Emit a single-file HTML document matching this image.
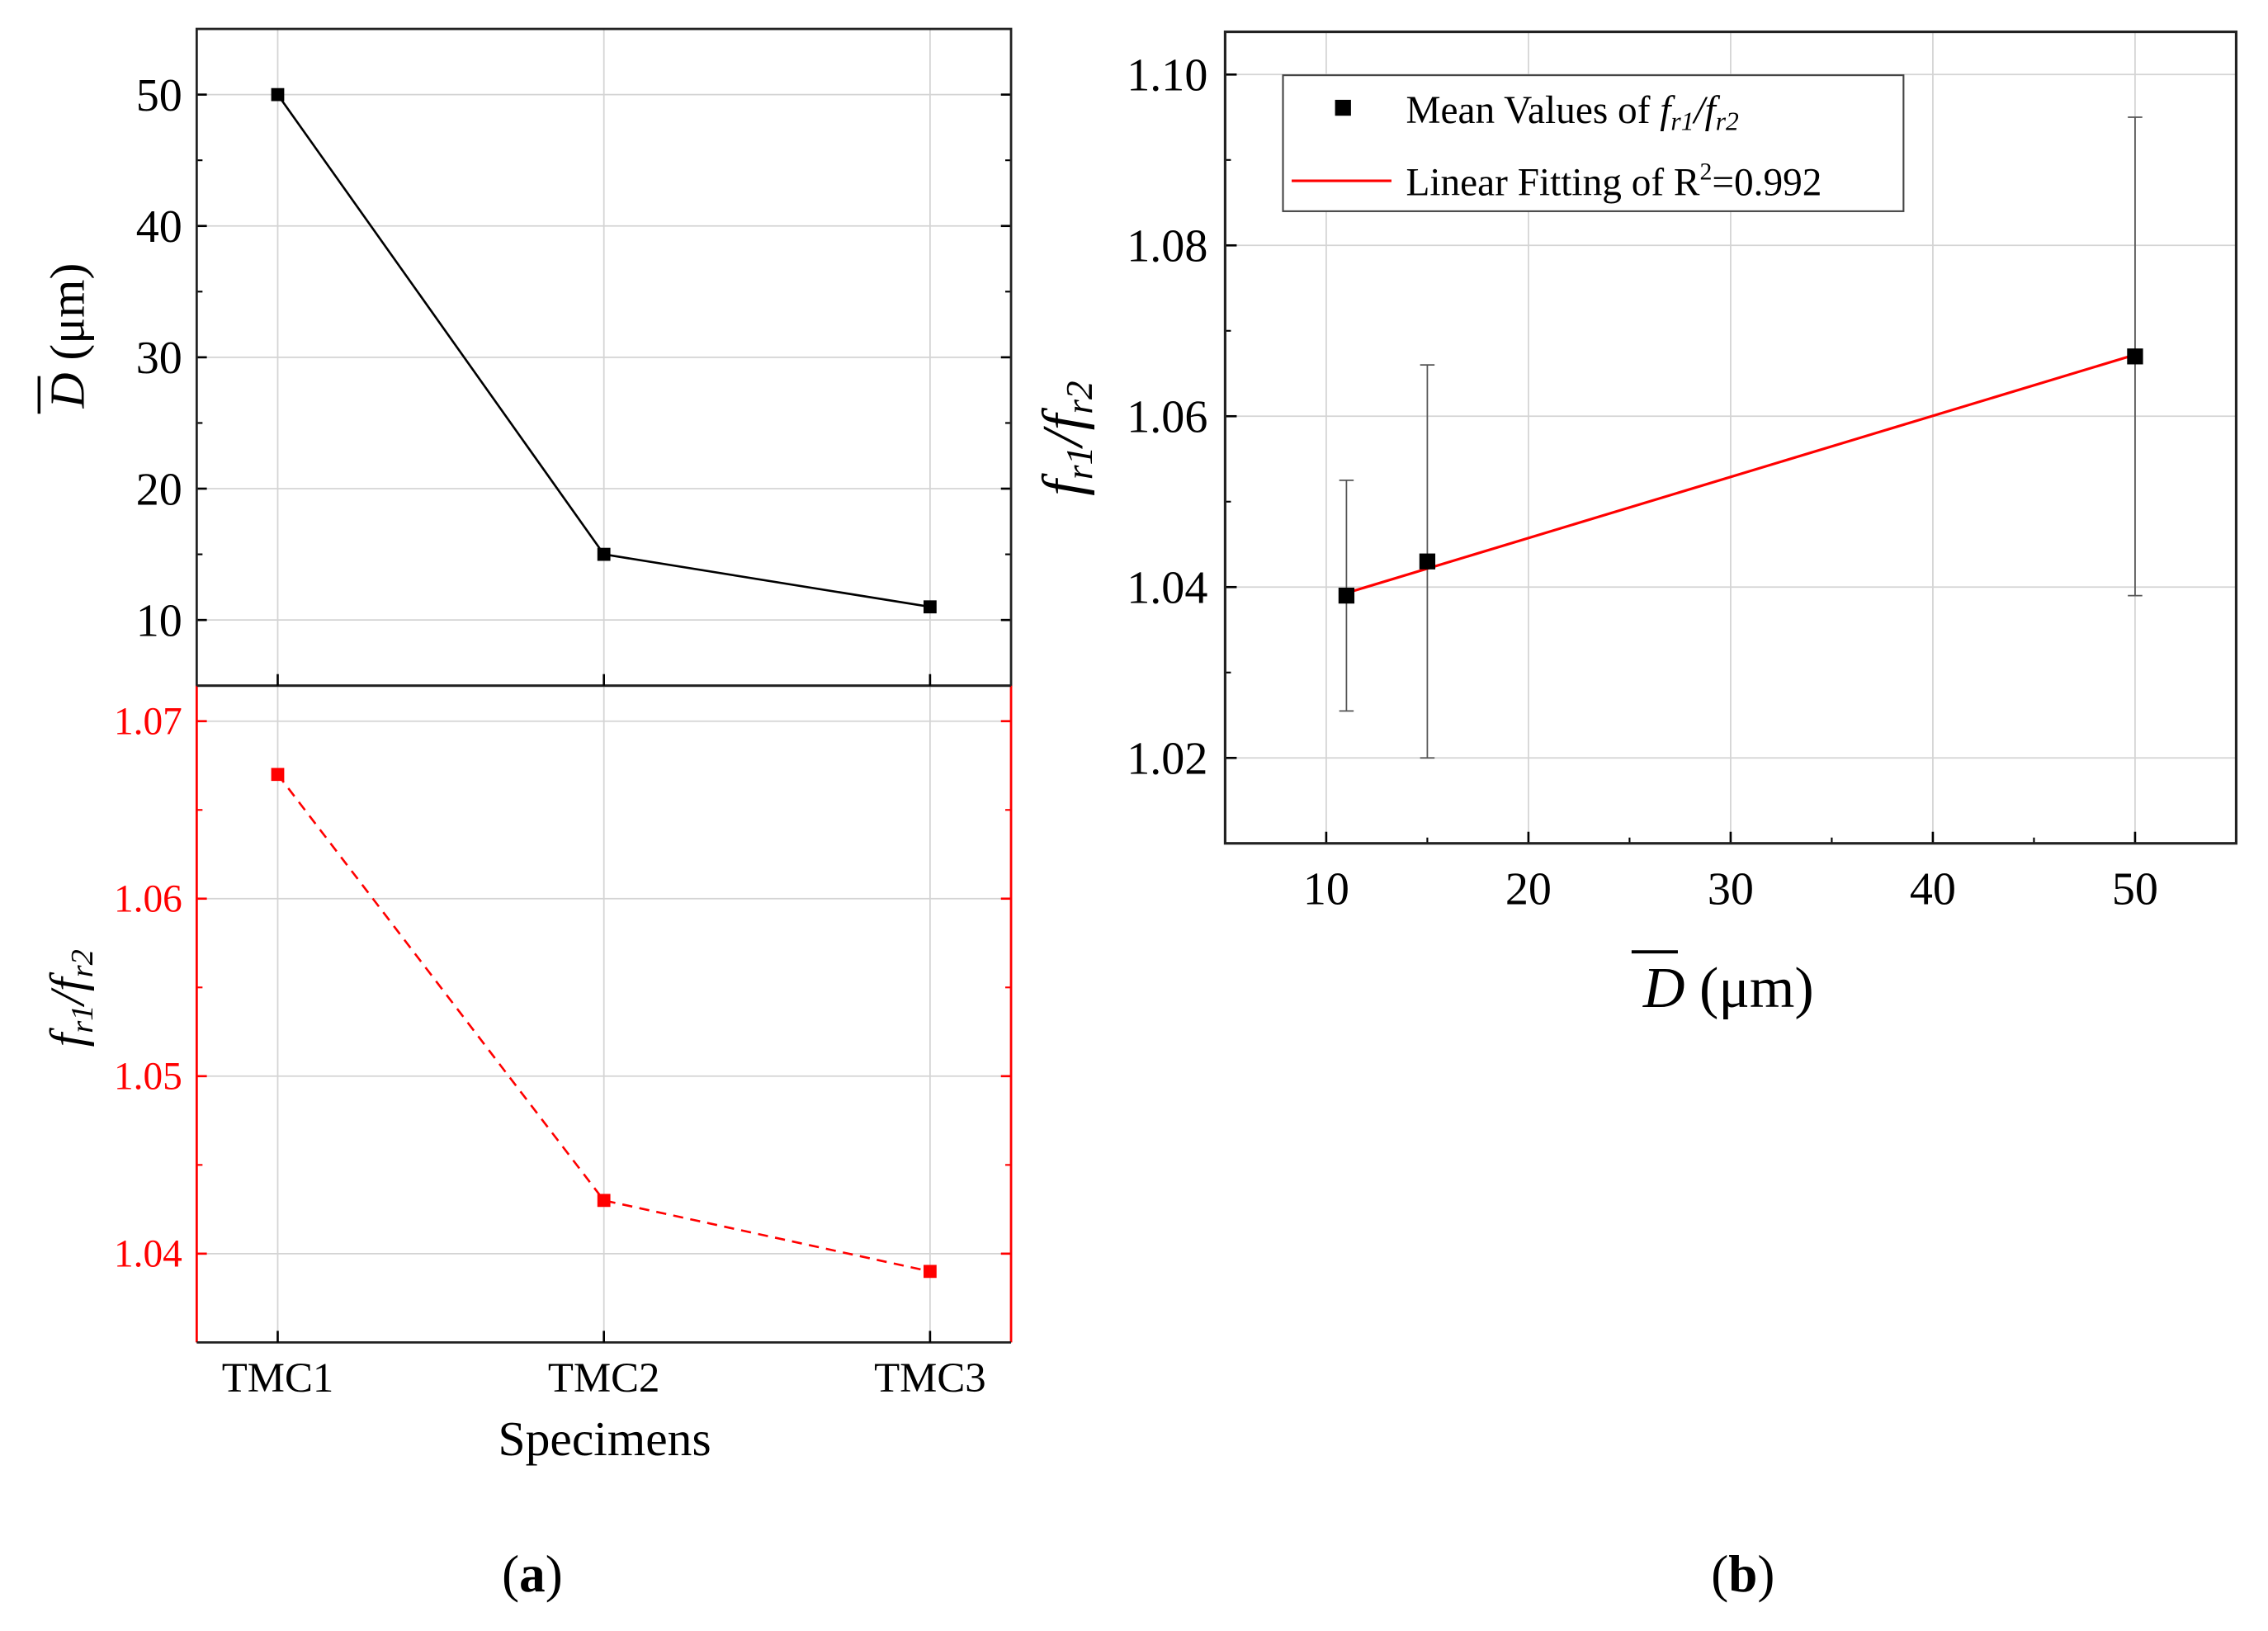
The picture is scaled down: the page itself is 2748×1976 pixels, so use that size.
<!DOCTYPE html>
<html><head><meta charset="utf-8"><style>
html,body{margin:0;padding:0;background:#fff}
svg{display:block}
text{font-family:"Liberation Serif",serif}
</style></head><body>
<svg id="chart" xmlns="http://www.w3.org/2000/svg" width="2748" height="1976" viewBox="0 0 1568 1127.5">
<g id="root"></g>
</svg>
<script>
// Panel (a) data
const specimens = ["TMC1","TMC2","TMC3"];
const grainSize = [50, 15, 11];
const freqRatio = [1.067, 1.043, 1.039];
const topTicks = [10,20,30,40,50];
const botTicks = [1.04,1.05,1.06,1.07];
// Panel (b) data
const meanD = [11, 15, 50];
const meanRatio = [1.039, 1.043, 1.067];
const errLow = [1.0255, 1.020, 1.039];
const errHigh = [1.0525, 1.066, 1.095];
const fitX = [11, 50];
const fitY = [1.0393, 1.0672];
const bXTicks = [10,20,30,40,50];
const bYTicks = [1.02,1.04,1.06,1.08,1.10];

const NS="http://www.w3.org/2000/svg";
const root=document.getElementById('root');
function mk(tag,attrs,parent){const e=document.createElementNS(NS,tag);for(const k in attrs)e.setAttribute(k,attrs[k]);(parent||root).appendChild(e);return e;}
function lin(d0,d1,r0,r1){return v=>r0+(v-d0)*(r1-r0)/(d1-d0);}

// ---------- Panel (a) ----------
const aL=136,aR=699,aT=20,aM=474,aB=928;
const ax=i=>lin(0,2,192,643)(i);
const ayT=lin(5,55,aM,aT);
const ayB=lin(1.035,1.072,aB,aM);
const gA=mk('g',{});


specimens.forEach((s,i)=>{
  const l=mk('line',{x1:ax(i),x2:ax(i),y1:aT,y2:aB,stroke:'#d4d4d4','stroke-width':1},gA);
  
  
});
topTicks.forEach(v=>{
  const l=mk('line',{x1:aL,x2:aR,y1:ayT(v),y2:ayT(v),stroke:'#d4d4d4','stroke-width':1},gA);
  
  
  const t=mk('text',{x:aL-10,y:ayT(v)+11,'text-anchor':'end','font-size':32,fill:'#000'},gA);
  t.textContent=v;
  
  
  mk('line',{x1:aL,x2:aL+7,y1:ayT(v),y2:ayT(v),stroke:'#000','stroke-width':1.5},gA);
  mk('line',{x1:aR,x2:aR-7,y1:ayT(v),y2:ayT(v),stroke:'#000','stroke-width':1.5},gA);
});
[15,25,35,45].forEach(v=>{
  mk('line',{x1:aL,x2:aL+4,y1:ayT(v),y2:ayT(v),stroke:'#000','stroke-width':1.2},gA);
  mk('line',{x1:aR,x2:aR-4,y1:ayT(v),y2:ayT(v),stroke:'#000','stroke-width':1.2},gA);
});
botTicks.forEach(v=>{
  const l=mk('line',{x1:aL,x2:aR,y1:ayB(v),y2:ayB(v),stroke:'#d4d4d4','stroke-width':1},gA);
  
  
  const t=mk('text',{x:aL-10,y:ayB(v)+9,'text-anchor':'end','font-size':27,fill:'#ff0000'},gA);
  t.textContent=v.toFixed(2);
  
  
  mk('line',{x1:aL,x2:aL+7,y1:ayB(v),y2:ayB(v),stroke:'#ff0000','stroke-width':1.5},gA);
  mk('line',{x1:aR,x2:aR-7,y1:ayB(v),y2:ayB(v),stroke:'#ff0000','stroke-width':1.5},gA);
});
[1.045,1.055,1.065].forEach(v=>{
  mk('line',{x1:aL,x2:aL+4,y1:ayB(v),y2:ayB(v),stroke:'#ff0000','stroke-width':1.2},gA);
  mk('line',{x1:aR,x2:aR-4,y1:ayB(v),y2:ayB(v),stroke:'#ff0000','stroke-width':1.2},gA);
});
mk('rect',{x:aL,y:aT,width:aR-aL,height:aM-aT,fill:'none',stroke:'#222','stroke-width':1.6},gA);
mk('line',{x1:aL,x2:aL,y1:aM,y2:aB,stroke:'#ff0000','stroke-width':1.6},gA);
mk('line',{x1:aR,x2:aR,y1:aM,y2:aB,stroke:'#ff0000','stroke-width':1.6},gA);
mk('line',{x1:aL,x2:aR,y1:aB,y2:aB,stroke:'#222','stroke-width':1.6},gA);
mk('line',{x1:aL,x2:aR,y1:aM,y2:aM,stroke:'#222','stroke-width':1.6},gA);
specimens.forEach((s,i)=>{
  mk('line',{x1:ax(i),x2:ax(i),y1:aM,y2:aM-8,stroke:'#000','stroke-width':1.5},gA);
  mk('line',{x1:ax(i),x2:ax(i),y1:aB,y2:aB-8,stroke:'#000','stroke-width':1.5},gA);
  const t=mk('text',{x:ax(i),y:aB+34,'text-anchor':'middle','font-size':29,fill:'#000'},gA);
  t.textContent=s;
  
  
});
const l1=mk('polyline',{points:grainSize.map((v,i)=>ax(i)+','+ayT(v)).join(' '),fill:'none',stroke:'#000','stroke-width':1.5},gA);


grainSize.forEach((v,i)=>{
  const r=mk('rect',{x:ax(i)-4.5,y:ayT(v)-4.5,width:9,height:9,fill:'#000'},gA);
  
  
});
const l2=mk('polyline',{points:freqRatio.map((v,i)=>ax(i)+','+ayB(v)).join(' '),fill:'none',stroke:'#ff0000','stroke-width':1.5,'stroke-dasharray':'7,5'},gA);


freqRatio.forEach((v,i)=>{
  const r=mk('rect',{x:ax(i)-4.5,y:ayB(v)-4.5,width:9,height:9,fill:'#ff0000'},gA);
  
  
});
</script>
<script>
(function(){
const root=document.getElementById('root');
root.insertAdjacentHTML('beforeend',
`<text transform="translate(58,232) rotate(-90)" text-anchor="middle" font-size="34"><tspan font-style="italic">D</tspan> (μm)</text>
<line x1="27" x2="27" y1="260" y2="286" stroke="#000" stroke-width="2"/>
<text transform="translate(58,690) rotate(-90)" text-anchor="middle" font-size="34" font-style="italic">f<tspan font-size="22" dy="6">r1</tspan><tspan dy="-6">/f</tspan><tspan font-size="22" dy="6">r2</tspan></text>
<text x="418" y="1006" text-anchor="middle" font-size="34">Specimens</text>
<text x="368" y="1100" text-anchor="middle" font-size="36">(<tspan font-weight="bold">a</tspan>)</text>
<text x="1205" y="1100" text-anchor="middle" font-size="36">(<tspan font-weight="bold">b</tspan>)</text>`);
})();
</script>
<script>
(function(){
const NS="http://www.w3.org/2000/svg";
const root=document.getElementById('root');
function mk(tag,attrs,parent){const e=document.createElementNS(NS,tag);for(const k in attrs)e.setAttribute(k,attrs[k]);(parent||root).appendChild(e);return e;}
const bL=847,bR=1546,bT=22,bB=583;
const bx=v=>bL+(v-5)*(bR-bL)/50;
const by=v=>bB-(v-1.01)*(bB-bT)/0.095;
const g=mk('g',{});


bXTicks.forEach(v=>{
  const l=mk('line',{x1:bx(v),x2:bx(v),y1:bT,y2:bB,stroke:'#d4d4d4','stroke-width':1},g);
  
  
  mk('line',{x1:bx(v),x2:bx(v),y1:bB,y2:bB-8,stroke:'#000','stroke-width':1.5},g);
  const t=mk('text',{x:bx(v),y:bB+42,'text-anchor':'middle','font-size':32,fill:'#000'},g);
  t.textContent=v;
  
  
});
[15,25,35,45].forEach(v=>mk('line',{x1:bx(v),x2:bx(v),y1:bB,y2:bB-4,stroke:'#000','stroke-width':1.2},g));
bYTicks.forEach(v=>{
  const l=mk('line',{x1:bL,x2:bR,y1:by(v),y2:by(v),stroke:'#d4d4d4','stroke-width':1},g);
  
  
  mk('line',{x1:bL,x2:bL+8,y1:by(v),y2:by(v),stroke:'#000','stroke-width':1.5},g);
  const t=mk('text',{x:bL-12,y:by(v)+11,'text-anchor':'end','font-size':32,fill:'#000'},g);
  t.textContent=v.toFixed(2);
  
  
});
[1.03,1.05,1.07,1.09].forEach(v=>mk('line',{x1:bL,x2:bL+4,y1:by(v),y2:by(v),stroke:'#000','stroke-width':1.2},g));
mk('rect',{x:bL,y:bT,width:bR-bL,height:bB-bT,fill:'none',stroke:'#222','stroke-width':1.8},g);
meanD.forEach((d,i)=>{
  const e=mk('g',{},g);
  
  
  mk('line',{x1:bx(d),x2:bx(d),y1:by(errLow[i]),y2:by(errHigh[i]),stroke:'#555','stroke-width':1},e);
  mk('line',{x1:bx(d)-5,x2:bx(d)+5,y1:by(errLow[i]),y2:by(errLow[i]),stroke:'#555','stroke-width':1},e);
  mk('line',{x1:bx(d)-5,x2:bx(d)+5,y1:by(errHigh[i]),y2:by(errHigh[i]),stroke:'#555','stroke-width':1},e);
});
const fl=mk('line',{x1:bx(fitX[0]),y1:by(fitY[0]),x2:bx(fitX[1]),y2:by(fitY[1]),stroke:'#ff0000','stroke-width':1.8},g);


meanD.forEach((d,i)=>{
  const r=mk('rect',{x:bx(d)-5.5,y:by(meanRatio[i])-5.5,width:11,height:11,fill:'#000'},g);
  
  
});
root.insertAdjacentHTML('beforeend',
`<g>
<rect x="887" y="52" width="429" height="94" fill="#fff" stroke="#444" stroke-width="1.2"/>
<rect x="923" y="69" width="11" height="11" fill="#000"/>
<text x="972" y="85" font-size="27">Mean Values of <tspan font-style="italic">f<tspan font-size="18" dy="5">r1</tspan><tspan dy="-5">/f</tspan><tspan font-size="18" dy="5">r2</tspan></tspan></text>
<line x1="893" x2="962" y1="125" y2="125" stroke="#ff0000" stroke-width="1.8"/>
<text x="972" y="135" font-size="27">Linear Fitting of R<tspan font-size="17" dy="-11">2</tspan><tspan dy="11">=0.992</tspan></text>
</g>
<text transform="translate(748,303) rotate(-90)" text-anchor="middle" font-size="40" font-style="italic">f<tspan font-size="26" dy="7">r1</tspan><tspan dy="-7">/f</tspan><tspan font-size="26" dy="7">r2</tspan></text>
<text x="1195" y="696" text-anchor="middle" font-size="40"><tspan font-style="italic">D</tspan> (μm)</text>
<line x1="1128" x2="1160" y1="658" y2="658" stroke="#000" stroke-width="2.2"/>`);
})();
</script>
</body></html>
